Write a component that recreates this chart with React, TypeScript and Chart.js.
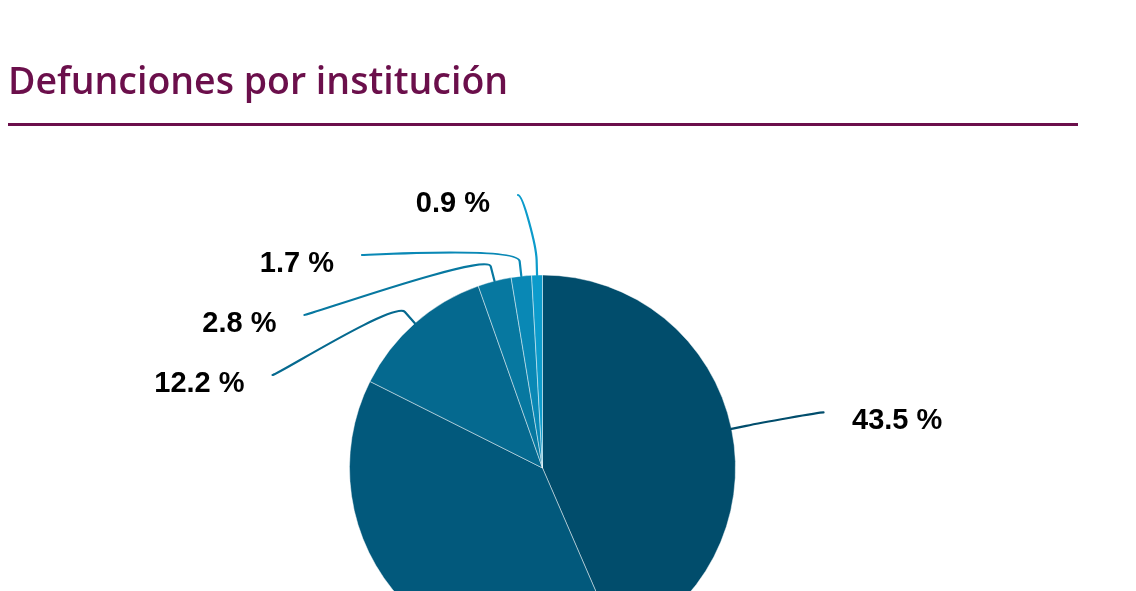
import React, { useEffect, useRef } from "react";
import { Chart, registerables } from "chart.js";

Chart.register(...registerables);

// ---- data ----
const TITLE = "Defunciones por institución";
const categories = ["Institución 1", "Institución 2", "Institución 3", "Institución 4", "Institución 5", "Institución 6"];
const values = [43.5, 38.9, 12.2, 2.8, 1.7, 0.9];
const colors = ["#014d6c", "#02597c", "#05698f", "#0778a0", "#0988b5", "#0c9bcb"];

// ---- layout / style ----
const PIE_RADIUS = 193;
const LABEL_RX = 287;
const LABEL_RY = 274;
const LABEL_SPACING = 60;
const BREAK_OFFSET = 15;
const TITLE_COLOR = "#6b0f4b";

type Item = { i: number; mid: number; left: boolean; target: number; y: number };

function distribute(items: Item[], minY: number, maxY: number) {
  items.sort((a, b) => a.target - b.target);
  let clusters = items.map((it) => ({ items: [it], start: it.target }));
  let changed = true;
  let guard = 0;
  while (changed && guard++ < 100) {
    changed = false;
    for (const c of clusters) {
      const n = c.items.length;
      const mean = c.items.reduce((s, it) => s + it.target, 0) / n;
      let start = mean - ((n - 1) * LABEL_SPACING) / 2;
      start = Math.max(minY, Math.min(start, maxY - (n - 1) * LABEL_SPACING));
      c.start = start;
    }
    for (let k = 0; k < clusters.length - 1; k++) {
      const a = clusters[k];
      const b = clusters[k + 1];
      if (a.start + a.items.length * LABEL_SPACING > b.start) {
        const merged = { items: a.items.concat(b.items), start: a.start };
        clusters = clusters.slice(0, k).concat([merged], clusters.slice(k + 2));
        changed = true;
        break;
      }
    }
  }
  for (const c of clusters) {
    c.items.forEach((it, idx) => {
      it.y = c.start + idx * LABEL_SPACING;
    });
  }
}

const labelPlugin = {
  id: "pieLabels",
  afterDatasetsDraw(chart: any) {
    const meta = chart.getDatasetMeta(0);
    const arcs = meta.data;
    if (!arcs.length) return;
    const ctx = chart.ctx as CanvasRenderingContext2D;
    const first = arcs[0].getProps(["x", "y", "outerRadius"], true);
    const cx = first.x;
    const cy = first.y;
    const r = first.outerRadius;
    const items: Item[] = arcs.map((arc: any, i: number) => {
      const p = arc.getProps(["startAngle", "endAngle"], true);
      const mid = (p.startAngle + p.endAngle) / 2;
      return { i, mid, left: Math.cos(mid) < 0, target: cy + LABEL_RY * Math.sin(mid), y: 0 };
    });
    const minY = cy - LABEL_RY + 1;
    const maxY = cy + LABEL_RY - 1;
    distribute(items.filter((it) => it.left), minY, maxY);
    distribute(items.filter((it) => !it.left), minY, maxY);

    ctx.save();
    for (const it of items) {
      const cos = Math.cos(it.mid);
      const sin = Math.sin(it.mid);
      const tx = cx + r * cos;
      const ty = cy + r * sin;
      const bx = cx + (r + BREAK_OFFSET) * cos;
      const by = cy + (r + BREAK_OFFSET) * sin;
      const t = Math.max(-1, Math.min(1, (it.y - cy) / LABEL_RY));
      const lx = cx + (it.left ? -1 : 1) * LABEL_RX * Math.sqrt(1 - t * t);
      const ly = it.y;

      ctx.beginPath();
      ctx.moveTo(lx, ly);
      ctx.bezierCurveTo(lx + (it.left ? 5 : -5), ly, 2 * bx - tx, 2 * by - ty, bx, by);
      ctx.lineTo(tx, ty);
      ctx.strokeStyle = colors[it.i];
      ctx.lineWidth = 2.2;
      ctx.lineJoin = "round";
      ctx.lineCap = "round";
      ctx.stroke();

      ctx.font = 'bold 29px "Liberation Sans", Arial, sans-serif';
      ctx.fillStyle = "#000000";
      ctx.textBaseline = "alphabetic";
      ctx.textAlign = it.left ? "right" : "left";
      const text = values[it.i].toFixed(1) + " %";
      ctx.fillText(text, it.left ? lx - 28 : lx + 28.5, ly + 17);
    }
    ctx.restore();
  },
};

export default function App() {
  const canvasRef = useRef<HTMLCanvasElement | null>(null);

  useEffect(() => {
    const canvas = canvasRef.current;
    if (!canvas) return;
    const chart = new Chart(canvas, {
      type: "pie",
      data: {
        labels: categories,
        datasets: [
          {
            data: values,
            backgroundColor: colors,
            borderColor: "rgba(255,255,255,0.45)",
            borderWidth: 1,
            radius: PIE_RADIUS,
          } as any,
        ],
      },
      options: {
        animation: false,
        responsive: false,
        maintainAspectRatio: false,
        layout: { padding: { left: 0, right: 51, top: 36, bottom: 0 } },
        plugins: {
          legend: { display: false },
          tooltip: { enabled: false },
          title: { display: false },
        },
      },
      plugins: [labelPlugin],
    });
    return () => chart.destroy();
  }, []);

  return (
    <div
      style={{
        position: "fixed",
        left: 0,
        top: 0,
        width: 1136,
        height: 591,
        overflow: "hidden",
        background: "#ffffff",
      }}
    >
      <canvas
        ref={canvasRef}
        width={1136}
        height={900}
        style={{ position: "absolute", left: 0, top: 0, width: 1136, height: 900, display: "block" }}
      />
      <div
        style={{
          position: "absolute",
          left: 8,
          top: 55,
          fontFamily: '"Open Sans", sans-serif',
          fontWeight: 600,
          fontSize: 37.5,
          lineHeight: "50px",
          color: TITLE_COLOR,
          whiteSpace: "nowrap",
        }}
      >
        {TITLE}
      </div>
      <div
        style={{
          position: "absolute",
          left: 8,
          top: 123,
          width: 1070,
          height: 3,
          background: TITLE_COLOR,
        }}
      />
    </div>
  );
}
